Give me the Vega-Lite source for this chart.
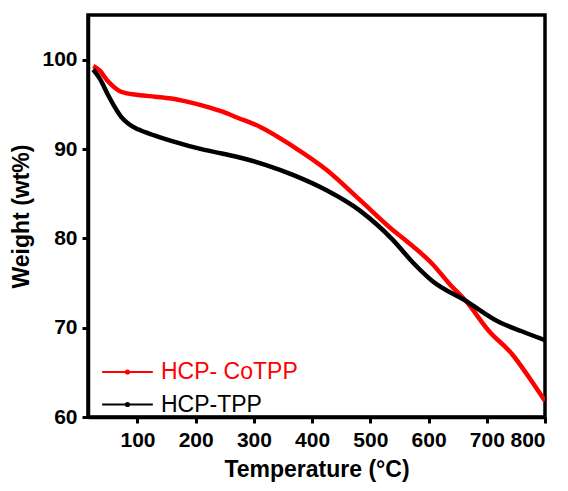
{
  "$schema": "https://vega.github.io/schema/vega-lite/v6.json",
  "width": 457,
  "height": 402,
  "autosize": {"type": "none"},
  "padding": {"left": 88, "top": 15, "right": 23, "bottom": 74},
  "background": "white",
  "config": {
    "font": "Liberation Sans",
    "view": {"stroke": "black", "strokeWidth": 3.5},
    "axis": {
      "domainColor": "black", "domainWidth": 3.5,
      "tickColor": "black", "tickWidth": 3, "tickSize": 6,
      "labelFont": "Liberation Sans", "labelFontWeight": "bold", "labelFontSize": 21, "labelColor": "black",
      "titleFont": "Liberation Sans", "titleFontWeight": "bold", "titleFontSize": 23, "titleColor": "black",
      "grid": false
    }
  },
  "data": {
    "values": [
      {"T": 24, "W": 99.3, "s": "HCP- CoTPP"},
      {"T": 35, "W": 98.8, "s": "HCP- CoTPP"},
      {"T": 49, "W": 97.6, "s": "HCP- CoTPP"},
      {"T": 60, "W": 96.9, "s": "HCP- CoTPP"},
      {"T": 69, "W": 96.5, "s": "HCP- CoTPP"},
      {"T": 80, "W": 96.25, "s": "HCP- CoTPP"},
      {"T": 101, "W": 96.05, "s": "HCP- CoTPP"},
      {"T": 130, "W": 95.85, "s": "HCP- CoTPP"},
      {"T": 158, "W": 95.65, "s": "HCP- CoTPP"},
      {"T": 185, "W": 95.3, "s": "HCP- CoTPP"},
      {"T": 215, "W": 94.8, "s": "HCP- CoTPP"},
      {"T": 245, "W": 94.2, "s": "HCP- CoTPP"},
      {"T": 272, "W": 93.5, "s": "HCP- CoTPP"},
      {"T": 310, "W": 92.5, "s": "HCP- CoTPP"},
      {"T": 367, "W": 90.3, "s": "HCP- CoTPP"},
      {"T": 424, "W": 87.7, "s": "HCP- CoTPP"},
      {"T": 482, "W": 84.3, "s": "HCP- CoTPP"},
      {"T": 539, "W": 80.9, "s": "HCP- CoTPP"},
      {"T": 562, "W": 79.7, "s": "HCP- CoTPP"},
      {"T": 607, "W": 77.1, "s": "HCP- CoTPP"},
      {"T": 636, "W": 74.9, "s": "HCP- CoTPP"},
      {"T": 664, "W": 73.0, "s": "HCP- CoTPP"},
      {"T": 704, "W": 69.6, "s": "HCP- CoTPP"},
      {"T": 744, "W": 67.0, "s": "HCP- CoTPP"},
      {"T": 773, "W": 64.4, "s": "HCP- CoTPP"},
      {"T": 800, "W": 61.8, "s": "HCP- CoTPP"},
      {"T": 24, "W": 98.9, "s": "HCP-TPP"},
      {"T": 35, "W": 97.9, "s": "HCP-TPP"},
      {"T": 49, "W": 96.1, "s": "HCP-TPP"},
      {"T": 60, "W": 94.8, "s": "HCP-TPP"},
      {"T": 72, "W": 93.6, "s": "HCP-TPP"},
      {"T": 85, "W": 92.8, "s": "HCP-TPP"},
      {"T": 101, "W": 92.2, "s": "HCP-TPP"},
      {"T": 130, "W": 91.5, "s": "HCP-TPP"},
      {"T": 158, "W": 90.9, "s": "HCP-TPP"},
      {"T": 215, "W": 89.9, "s": "HCP-TPP"},
      {"T": 245, "W": 89.5, "s": "HCP-TPP"},
      {"T": 272, "W": 89.1, "s": "HCP-TPP"},
      {"T": 321, "W": 88.2, "s": "HCP-TPP"},
      {"T": 367, "W": 87.1, "s": "HCP-TPP"},
      {"T": 424, "W": 85.4, "s": "HCP-TPP"},
      {"T": 482, "W": 83.1, "s": "HCP-TPP"},
      {"T": 539, "W": 79.8, "s": "HCP-TPP"},
      {"T": 573, "W": 77.3, "s": "HCP-TPP"},
      {"T": 607, "W": 75.2, "s": "HCP-TPP"},
      {"T": 664, "W": 73.0, "s": "HCP-TPP"},
      {"T": 722, "W": 70.6, "s": "HCP-TPP"},
      {"T": 760, "W": 69.6, "s": "HCP-TPP"},
      {"T": 800, "W": 68.6, "s": "HCP-TPP"}
    ]
  },
  "mark": {"type": "line", "interpolate": "monotone", "clip": true, "strokeWidth": 4.5},
  "encoding": {
    "x": {
      "field": "T", "type": "quantitative",
      "scale": {"domain": [15, 800], "nice": false, "zero": false},
      "axis": {"values": [100, 200, 300, 400, 500, 600, 700, 800], "title": "Temperature (°C)", "labelPadding": 6, "titlePadding": 8}
    },
    "y": {
      "field": "W", "type": "quantitative",
      "scale": {"domain": [60, 105], "nice": false, "zero": false},
      "axis": {"values": [60, 70, 80, 90, 100], "title": "Weight (wt%)", "labelPadding": 5, "titlePadding": 8}
    },
    "color": {
      "field": "s", "type": "nominal",
      "scale": {"domain": ["HCP- CoTPP", "HCP-TPP"], "range": ["#ff0000", "#000000"]},
      "legend": {
        "title": null,
        "orient": "none",
        "legendX": 22.5,
        "legendY": 340,
        "symbolType": "M-1.6,0H1.6M-0.1,0a0.1,0.1 0 1,0 0.2,0a0.1,0.1 0 1,0 -0.2,0",
        "symbolSize": 1000,
        "symbolStrokeWidth": 2,
        "labelFont": "Liberation Sans",
        "labelFontSize": 23,
        "labelOffset": 16.5,
        "rowPadding": 3.5,
        "labelLimit": 300,
        "encode": {
          "symbols": {"update": {"strokeWidth": {"value": 2}}},
          "labels": {"update": {"fill": {"signal": "datum.value === 'HCP- CoTPP' ? '#ff0000' : '#000000'"}}}
        }
      }
    }
  }
}
